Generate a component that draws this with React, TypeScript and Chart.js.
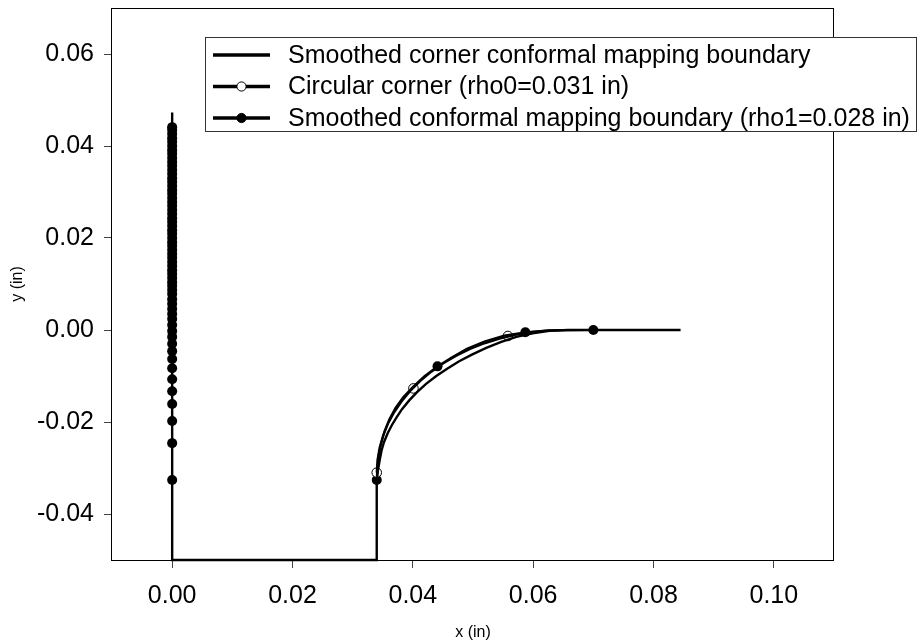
import React, { useEffect, useRef } from 'react';
import { Chart, registerables } from 'chart.js';

Chart.register(...registerables);

const FONT = '"Liberation Sans", Arial, Helvetica, sans-serif';

// Axis ticks
const xTicks = [0.0, 0.02, 0.04, 0.06, 0.08, 0.1];
const yTicks = [-0.04, -0.02, 0.0, 0.02, 0.04, 0.06];

// Legend labels
const legendLabels = [
  'Smoothed corner conformal mapping boundary',
  'Circular corner (rho0=0.031 in)',
  'Smoothed conformal mapping boundary (rho1=0.028 in)',
];

// Series 1: smoothed corner conformal mapping boundary (plain line)
const boundaryX = [
  0.0, 0.0, 0.034, 0.034, 0.0342, 0.0345, 0.0348, 0.0352, 0.0358, 0.0365, 0.0373, 0.0382, 0.0394,
  0.0407, 0.0422, 0.0439, 0.0457, 0.0477, 0.0499, 0.0522, 0.0547, 0.0572, 0.0599, 0.0627, 0.0657, 0.0845,
];
const boundaryY = [
  0.0473, -0.05, -0.05, -0.033, -0.0305, -0.0282, -0.0262, -0.0244, -0.0225, -0.0207, -0.019, -0.0172,
  -0.0153, -0.0135, -0.0117, -0.01, -0.0084, -0.0068, -0.0053, -0.0039, -0.0026, -0.0015, -0.0007,
  -0.0002, 0.0, 0.0,
];

// Series 2: circular corner (line + hollow markers)
const circleLineX = [
  0.034, 0.03412, 0.03447, 0.03506, 0.03587, 0.0369, 0.03815, 0.03961, 0.04125, 0.04308, 0.04507,
  0.04722, 0.0495, 0.0519, 0.0544, 0.05698, 0.05962, 0.0623, 0.065,
];
const circleLineY = [
  -0.031, -0.0283, -0.02562, -0.02298, -0.0204, -0.0179, -0.0155, -0.01322, -0.01107, -0.00908,
  -0.00725, -0.00561, -0.00415, -0.0029, -0.00187, -0.00106, -0.00047, -0.00012, 0.0,
];
const circleMarkX = [0.034, 0.0401, 0.0558];
const circleMarkY = [-0.031, -0.0127, -0.0013];

// Series 3: smoothed conformal mapping boundary (line + filled markers)
const smoothLineX = [
  0.034, 0.0341, 0.0343, 0.0347, 0.0353, 0.0361, 0.0371, 0.0384, 0.04, 0.0419, 0.0441, 0.0464,
  0.049, 0.0519, 0.0552, 0.0587, 0.0627, 0.07,
];
const smoothLineY = [
  -0.0326, -0.03, -0.0275, -0.0248, -0.022, -0.0194, -0.017, -0.0146, -0.0124, -0.0101, -0.0079,
  -0.006, -0.0041, -0.0025, -0.0012, -0.0005, -0.0001, 0.0,
];
const smoothMarkX = [0.034, 0.0441, 0.0587, 0.07];
const smoothMarkY = [-0.0326, -0.0079, -0.0005, 0.0];
// markers of series 3 lying on the x = 0 edge
const edgeMarkX = 0.0;
const edgeMarkY = [
  -0.0326, -0.0246, -0.0198, -0.0161, -0.0133, -0.0107, -0.0083, -0.0063, -0.0046, -0.003, -0.0015,
  -0.0002, 0.0011, 0.0024, 0.0035, 0.0046, 0.0057, 0.0067, 0.0078, 0.0087, 0.0096, 0.0104, 0.0113,
  0.0122, 0.013, 0.0139, 0.0148, 0.0157, 0.0165, 0.0174, 0.0183, 0.0191, 0.02, 0.0209, 0.0217,
  0.0226, 0.0235, 0.0243, 0.0252, 0.0261, 0.027, 0.0278, 0.0287, 0.0296, 0.0304, 0.0313, 0.0322,
  0.033, 0.0339, 0.0348, 0.0357, 0.0365, 0.0374, 0.0383, 0.0391, 0.04, 0.0409, 0.0417, 0.0426,
  0.0435, 0.0441,
];

const pts = (xs: number[], ys: number[]) => xs.map((x, i) => ({ x, y: ys[i] }));

const legendStyles: Array<'none' | 'hollow' | 'filled'> = ['none', 'hollow', 'filled'];

const framePlugin = {
  id: 'frame',
  beforeDatasetsDraw(chart: any) {
    const { ctx, chartArea } = chart;
    ctx.save();
    ctx.strokeStyle = '#000';
    ctx.lineWidth = 1;
    const l = Math.round(chartArea.left) - 0.5;
    const r = Math.round(chartArea.right) - 0.5;
    const t = Math.round(chartArea.top) + 0.5;
    const b = Math.round(chartArea.bottom) + 0.5;
    ctx.strokeRect(l, t, r - l, b - t);
    ctx.restore();
  },
};

const legendPlugin = {
  id: 'boxLegend',
  afterDatasetsDraw(chart: any) {
    const { ctx, chartArea } = chart;
    const left = chartArea.left + 93;
    const top = chartArea.top + 29;
    const bottom = chartArea.top + 124;
    ctx.save();
    ctx.font = `25px ${FONT}`;
    const textLeft = left + 83;
    const maxW = Math.max(...legendLabels.map((l) => ctx.measureText(l).width));
    const right = Math.min(chart.width - 2, textLeft + maxW + 8);
    ctx.fillStyle = '#fff';
    ctx.fillRect(left, top, right - left, bottom - top);
    ctx.strokeStyle = '#333';
    ctx.lineWidth = 1;
    ctx.strokeRect(left + 0.5, top + 0.5, right - left - 1, bottom - top - 1);
    const rowY = [top + 18, top + 49.5, top + 81];
    legendLabels.forEach((label, i) => {
      const y = rowY[i];
      ctx.strokeStyle = '#000';
      ctx.lineWidth = 3.5;
      ctx.beginPath();
      ctx.moveTo(left + 8, y);
      ctx.lineTo(left + 65, y);
      ctx.stroke();
      const mx = left + 36.5;
      if (legendStyles[i] !== 'none') {
        ctx.beginPath();
        ctx.arc(mx, y, 4.6, 0, Math.PI * 2);
        ctx.fillStyle = legendStyles[i] === 'hollow' ? '#fff' : '#000';
        ctx.fill();
        ctx.lineWidth = 1;
        ctx.strokeStyle = '#000';
        ctx.stroke();
      }
      ctx.fillStyle = '#000';
      ctx.font = `25px ${FONT}`;
      ctx.textAlign = 'left';
      ctx.textBaseline = 'middle';
      ctx.fillText(label, textLeft, y + 1);
    });
    ctx.restore();
  },
};

export default function App() {
  const canvasRef = useRef<HTMLCanvasElement | null>(null);

  useEffect(() => {
    const canvas = canvasRef.current;
    if (!canvas) return;
    const lineDs = (data: any[], width: number) => ({
      data,
      showLine: true,
      borderColor: '#000',
      borderWidth: width,
      pointRadius: 0,
      tension: 0,
      fill: false,
      clip: false as any,
    });
    const chart = new Chart(canvas, {
      type: 'scatter',
      data: {
        datasets: [
          { label: legendLabels[0], ...lineDs(pts(boundaryX, boundaryY), 2.4) },
          { label: legendLabels[1], ...lineDs(pts(circleLineX, circleLineY), 2.2) },
          { label: legendLabels[2], ...lineDs(pts(smoothLineX, smoothLineY), 2.2) },
          {
            label: legendLabels[1] + ' markers',
            data: pts(circleMarkX, circleMarkY),
            showLine: false,
            pointRadius: 4.8,
            pointBackgroundColor: '#fff',
            pointBorderColor: '#000',
            pointBorderWidth: 1,
            clip: false as any,
          },
          {
            label: legendLabels[2] + ' markers',
            data: [
              ...edgeMarkY.map((y) => ({ x: edgeMarkX, y })),
              ...pts(smoothMarkX, smoothMarkY),
            ],
            showLine: false,
            pointRadius: 5,
            pointBackgroundColor: '#000',
            pointBorderColor: '#000',
            pointBorderWidth: 0,
            clip: false as any,
          },
        ],
      },
      options: {
        responsive: false,
        animation: false,
        devicePixelRatio: 1,
        events: [],
        layout: { padding: { top: 8, right: 85, left: 0, bottom: 0 } },
        plugins: {
          legend: { display: false },
          tooltip: { enabled: false },
        },
        scales: {
          x: {
            type: 'linear',
            min: -0.01,
            max: 0.11,
            afterBuildTicks: (s: any) => {
              s.ticks = xTicks.map((v) => ({ value: v }));
            },
            afterFit: (s: any) => {
              s.height = 82;
              s.paddingLeft = 0;
              s.paddingRight = 0;
            },
            ticks: {
              callback: (v: any) => Number(v).toFixed(2),
              font: { size: 25, family: FONT },
              color: '#000',
              padding: 13,
              maxRotation: 0,
              autoSkip: false,
            },
            grid: { drawOnChartArea: false, drawTicks: true, tickLength: 8, color: '#444', tickColor: '#444' },
            border: { display: false },
            title: {
              display: true,
              text: 'x (in)',
              font: { size: 16, family: FONT },
              color: '#000',
              padding: { top: 0, bottom: 0 },
            },
          },
          y: {
            type: 'linear',
            min: -0.05,
            max: 0.07,
            afterBuildTicks: (s: any) => {
              s.ticks = yTicks.map((v) => ({ value: v }));
            },
            afterFit: (s: any) => {
              s.width = 112;
              s.paddingTop = 0;
              s.paddingBottom = 0;
            },
            ticks: {
              callback: (v: any) => Number(v).toFixed(2),
              font: { size: 25, family: FONT },
              color: '#000',
              padding: 10,
              autoSkip: false,
            },
            grid: { drawOnChartArea: false, drawTicks: true, tickLength: 8, color: '#444', tickColor: '#444' },
            border: { display: false },
            title: {
              display: true,
              text: 'y (in)',
              font: { size: 16, family: FONT },
              color: '#000',
              padding: { top: 8, bottom: 0 },
            },
          },
        },
      },
      plugins: [framePlugin, legendPlugin],
    });
    return () => chart.destroy();
  }, []);

  return (
    <div style={{ position: 'fixed', left: 0, top: 0, width: 919, height: 642, background: '#fff' }}>
      <canvas ref={canvasRef} width={919} height={642} style={{ display: 'block' }} />
    </div>
  );
}
